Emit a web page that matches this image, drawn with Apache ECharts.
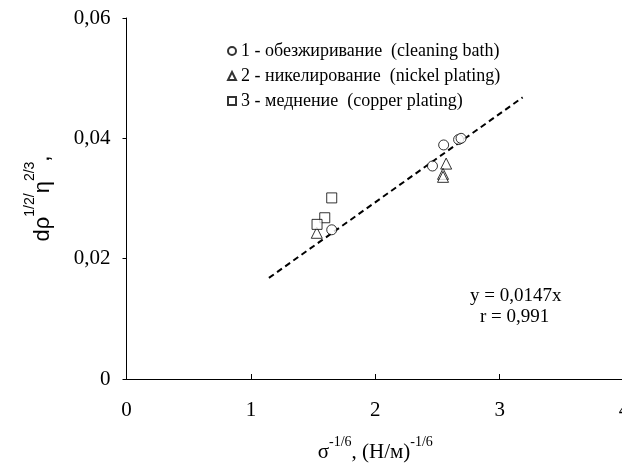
<!DOCTYPE html>
<html><head><meta charset="utf-8">
<script src="https://cdn.jsdelivr.net/npm/echarts@6/dist/echarts.min.js"></script>
<style>html,body{margin:0;padding:0;background:#fff}#c{width:622px;height:466px}</style>
</head><body><div id="c"></div>
<script>
// Data
var cleaningX = [2.46, 2.55, 2.67, 2.69, 1.65];
var cleaningY = [0.0354, 0.0389, 0.0398, 0.0400, 0.0248];
var nickelX = [2.57, 2.545, 2.545, 1.53];
var nickelY = [0.0358, 0.0341, 0.0336, 0.0243];
var copperX = [1.65, 1.594, 1.532];
var copperY = [0.0301, 0.0268, 0.0257];
var fitX = [1.145, 3.185];
var fitY = [0.0168, 0.0468];
var seriesNames = ['1 - обезжиривание  (cleaning bath)', '2 - никелирование  (nickel plating)', '3 - меднение  (copper plating)'];
var xTicks = [0, 1, 2, 3, 4];
var yTicks = [0, 0.02, 0.04, 0.06];
var equationText = ['y = 0,0147x', 'r = 0,991'];

function zip(a, b) { return a.map(function (v, i) { return [v, b[i]]; }); }
var serif = 'Liberation Serif';
var markerStyle = { color: '#fff', borderColor: '#000', borderWidth: 1 };

var chart = echarts.init(document.getElementById('c'), null, { renderer: 'canvas' });
chart.setOption({
  animation: false,
  backgroundColor: '#fff',
  grid: { left: 126.5, width: 497.5, top: 18, height: 361, containLabel: false, outerBoundsMode: 'none' },
  xAxis: {
    type: 'value', min: xTicks[0], max: xTicks[xTicks.length - 1], interval: 1,
    axisLine: { lineStyle: { color: '#000', width: 1 } },
    axisTick: { inside: true, length: 5, lineStyle: { color: '#000' } },
    splitLine: { show: false },
    axisLabel: { color: '#000', fontFamily: serif, fontSize: 21, margin: 21, showMaxLabel: true },
    name: '{m|σ}{s|-1/6}{m|, (Н/м)}{s|-1/6}',
    nameLocation: 'middle', nameGap: 56,
    nameTextStyle: {
      rich: {
        m: { fontFamily: serif, fontSize: 21, color: '#000', verticalAlign: 'bottom', lineHeight: 28 },
        s: { fontFamily: serif, fontSize: 14, color: '#000', verticalAlign: 'top', lineHeight: 28 }
      }
    }
  },
  yAxis: {
    type: 'value', min: yTicks[0], max: yTicks[yTicks.length - 1], interval: 0.02,
    axisLine: { show: true, lineStyle: { color: '#000', width: 1 } },
    axisTick: { show: true, inside: false, length: 4, lineStyle: { color: '#000' } },
    splitLine: { show: false },
    axisLabel: {
      color: '#000', fontFamily: serif, fontSize: 21, margin: 16,
      formatter: function (v) { return v === 0 ? '0' : v.toFixed(2).replace('.', ','); }
    },
    name: '{m|dρ}{s|1/2}{s|/}{m|η}{s|2/3}{m|,}',
    nameLocation: 'middle', nameGap: 73, nameRotate: 90,
    nameTextStyle: {
      rich: {
        m: { fontFamily: 'Liberation Sans', fontSize: 22, color: '#000', verticalAlign: 'bottom', lineHeight: 30 },
        s: { fontFamily: 'Liberation Sans', fontSize: 14, color: '#000', verticalAlign: 'top', lineHeight: 30 }
      }
    }
  },
  legend: {
    data: seriesNames, orient: 'vertical', left: 222, top: 37,
    itemWidth: 8, itemHeight: 8, itemGap: 7,
    textStyle: { fontFamily: serif, fontSize: 18, color: '#000' },
    selectedMode: false
  },
  graphic: [
    { type: 'text', left: 470, top: 287, style: { text: equationText[0], font: '19px "Liberation Serif"', fill: '#000' } },
    { type: 'text', left: 480, top: 308, style: { text: equationText[1], font: '19px "Liberation Serif"', fill: '#000' } }
  ],
  series: [
    { type: 'line', data: zip(fitX, fitY), symbol: 'none', silent: true,
      lineStyle: { color: '#000', width: 2, type: [6, 4] }, z: 1 },
    { name: seriesNames[0], type: 'scatter', symbol: 'circle', symbolSize: 10, data: zip(cleaningX, cleaningY), itemStyle: markerStyle, z: 3 },
    { name: seriesNames[1], type: 'scatter', symbol: 'triangle', symbolSize: 11, data: zip(nickelX, nickelY), itemStyle: markerStyle, z: 3 },
    { name: seriesNames[2], type: 'scatter', symbol: 'rect', symbolSize: 10, data: zip(copperX, copperY), itemStyle: markerStyle, z: 3 }
  ]
});
</script></body></html>
